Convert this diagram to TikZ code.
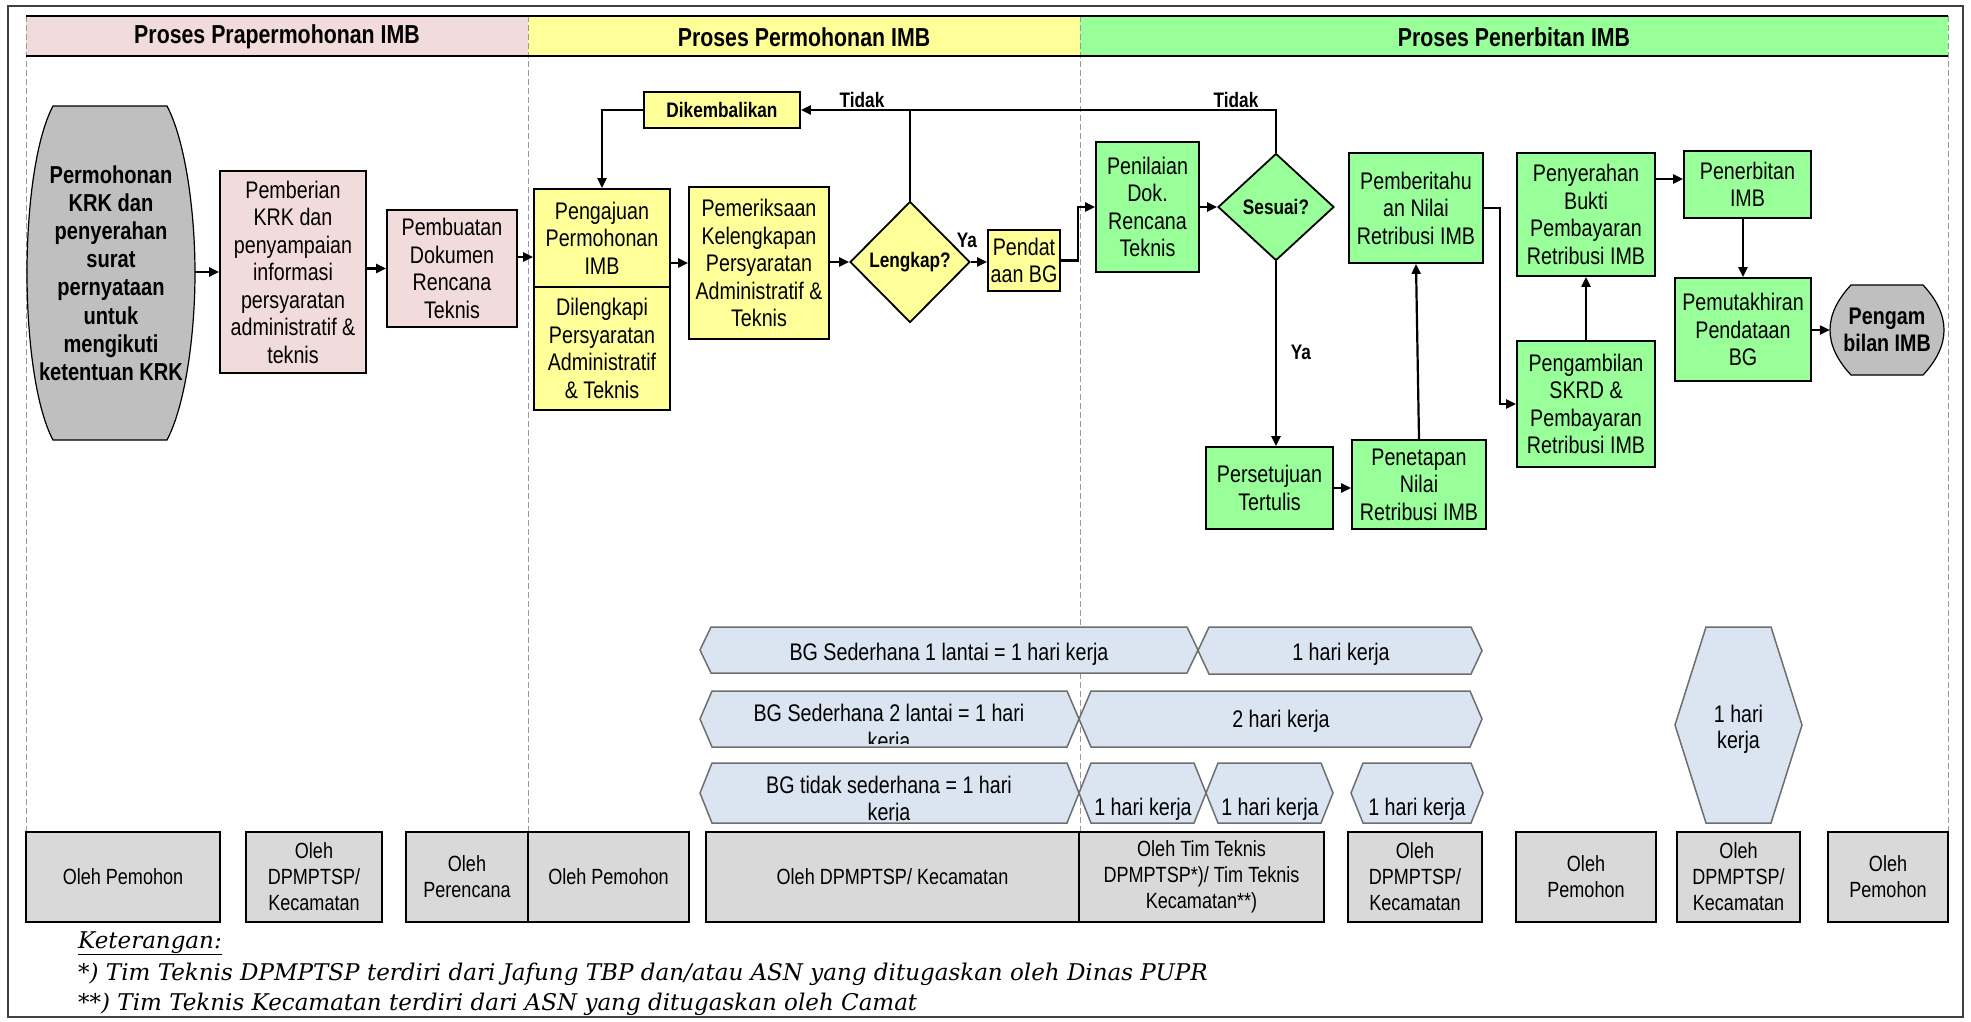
\documentclass[tikz,border=0pt]{standalone}
\usepackage{fontspec}
\setmainfont{Liberation Sans}[FakeStretch=0.82]
\newfontfamily\notefont{DejaVu Serif}
\usetikzlibrary{arrows.meta,shapes.geometric}
\definecolor{pinkc}{HTML}{F2DCDB}
\definecolor{yelc}{HTML}{FFFF99}
\definecolor{grnc}{HTML}{99FF99}
\definecolor{grayc}{HTML}{BFBFBF}
\definecolor{olehc}{HTML}{D9D9D9}
\definecolor{hexc}{HTML}{DBE5F1}
\definecolor{hexd}{HTML}{6E6E6E}
\definecolor{framec}{HTML}{404040}
\newcommand\fsn{\fontsize{24}{27.5}\selectfont}
\newcommand\fsb{\fontsize{21}{24}\selectfont\bfseries}
\newcommand\fsbb{\fontsize{24.5}{28.2}\selectfont\bfseries}
\newcommand\fsh{\fontsize{26}{30}\selectfont\bfseries}
\newcommand\fso{\fontsize{22}{26}\selectfont}
\newcommand\fsnote{\notefont\itshape\fontsize{23}{26}\selectfont}
\newcommand\myhex[5]{\draw[hexs] (#1,{(#3+#4)/2}) -- ({#1+#5},#3) -- ({#2-#5},#3) -- (#2,{(#3+#4)/2}) -- ({#2-#5},#4) -- ({#1+#5},#4) -- cycle;}
\begin{document}
\begin{tikzpicture}[x=1pt,y=-1pt,
  box/.style={draw=black, line width=1.8pt, align=center, inner sep=0pt, font=\fsn},
  pk/.style={box, fill=pinkc}, yk/.style={box, fill=yelc}, gk/.style={box, fill=grnc},
  ob/.style={draw=black, line width=1.6pt, fill=olehc, align=center, inner sep=0pt, font=\fso, minimum height=90pt},
  conn/.style={line width=2.2pt, -{Triangle[length=10pt,width=9pt]}},
  plain/.style={line width=2.2pt},
  lane/.style={draw=gray!80, line width=1pt, dash pattern=on 6pt off 3pt},
  hexs/.style={draw=hexd, line width=1.5pt, fill=hexc},
  lbl/.style={font=\fsb, inner sep=0pt},
  txt/.style={font=\fsn, inner sep=0pt, align=center},
]
\useasboundingbox (0,0) rectangle (1971,1021);
\fill[white] (0,0) rectangle (1971,1021);
\draw[framec, line width=1.5pt] (8,6) rectangle (1963,1017);

% header bands
\fill[pinkc] (26,16) rectangle (528,56);
\fill[yelc] (528,16) rectangle (1080,56);
\fill[grnc] (1080,16) rectangle (1948,56);
% lanes
\foreach \lx in {26,528,1080,1948} \draw[lane] (\lx,16) -- (\lx,832);
\draw[line width=2pt] (26,16) -- (1948,16);
\draw[line width=2.4pt] (26,56) -- (1948,56);
\node[font=\fsh] (h1) at (277,37) {Proses Prapermohonan IMB};
\node[font=\fsh] (h2) at (804,37) {Proses Permohonan IMB};
\node[font=\fsh] (h3) at (1514,37) {Proses Penerbitan IMB};

% start barrel
\draw[fill=grayc, line width=1.2pt] (53,106) -- (167,106) .. controls (185,140) and (195,210) .. (195,273) .. controls (195,336) and (185,406) .. (167,440) -- (53,440) .. controls (35,406) and (27,336) .. (27,273) .. controls (27,210) and (35,140) .. (53,106) -- cycle;
\node[font=\fsbb, align=center, inner sep=0pt, minimum width=168pt, minimum height=334pt] (p1) at (111,273) {Permohonan\\KRK dan\\penyerahan\\surat\\pernyataan\\untuk\\mengikuti\\ketentuan KRK};

% end barrel
\draw[fill=grayc, line width=1.2pt] (1851,285) -- (1923,285) .. controls (1937,300) and (1944,315) .. (1944,330) .. controls (1944,345) and (1937,360) .. (1923,375) -- (1851,375) .. controls (1837,360) and (1830,345) .. (1830,330) .. controls (1830,315) and (1837,300) .. (1851,285) -- cycle;
\node[font=\fontsize{24}{27}\selectfont\bfseries, align=center, inner sep=0pt, minimum width=114pt, minimum height=90pt] (endn) at (1887,330) {Pengam\\bilan IMB};

% pink boxes
\node[pk, minimum width=146pt, minimum height=202pt] (pemb) at (293,272) {Pemberian\\KRK dan\\penyampaian\\informasi\\persyaratan\\administratif \&\\teknis};
\node[pk, minimum width=130pt, minimum height=117pt] (pembu) at (452,268.5) {Pembuatan\\Dokumen\\Rencana\\Teknis};

% yellow
\node[yk, minimum width=136pt, minimum height=98pt] (peng) at (602,238) {Pengajuan\\Permohonan\\IMB};
\node[yk, minimum width=136pt, minimum height=123pt] (dil) at (602,348.5) {Dilengkapi\\Persyaratan\\Administratif\\\& Teknis};
\node[yk, font=\fsb, minimum width=156pt, minimum height=36pt] (dik) at (722,110) {Dikembalikan};
\node[yk, minimum width=140pt, minimum height=152pt] (pem) at (759,263) {Pemeriksaan\\Kelengkapan\\Persyaratan\\Administratif \&\\Teknis};
\node[draw=black, line width=1.8pt, fill=yelc, diamond, aspect=1, minimum width=120pt, minimum height=121pt, inner sep=0pt, font=\fsb] (leng) at (910,262) {Lengkap?};
\node[yk, minimum width=72pt, minimum height=61pt] (pend) at (1024,260.5) {Pendat\\aan BG};

% green
\node[gk, minimum width=103pt, minimum height=130pt] (peni) at (1147.5,207) {Penilaian\\Dok.\\Rencana\\Teknis};
\node[draw=black, line width=1.8pt, fill=grnc, diamond, aspect=1, minimum width=116pt, minimum height=107pt, inner sep=0pt, font=\fsb] (ses) at (1276,207) {Sesuai?};
\node[gk, minimum width=127pt, minimum height=82pt] (pers) at (1269.5,488) {Persetujuan\\Tertulis};
\node[gk, minimum width=134pt, minimum height=89pt] (pene) at (1419,484.5) {Penetapan\\Nilai\\Retribusi IMB};
\node[gk, minimum width=134pt, minimum height=110pt] (pemt) at (1416,208) {Pemberitahu\\an Nilai\\Retribusi IMB};
\node[gk, minimum width=138pt, minimum height=123pt] (peny) at (1586,214.5) {Penyerahan\\Bukti\\Pembayaran\\Retribusi IMB};
\node[gk, minimum width=138pt, minimum height=126pt] (pgb) at (1586,404) {Pengambilan\\SKRD \&\\Pembayaran\\Retribusi IMB};
\node[gk, minimum width=127pt, minimum height=67pt] (pnb) at (1747.5,184.5) {Penerbitan\\IMB};
\node[gk, minimum width=136pt, minimum height=103pt] (pmk) at (1743,329.5) {Pemutakhiran\\Pendataan\\BG};

% helper coordinates
\coordinate (y257) at (0,257);
\coordinate (y179) at (0,179);
\coordinate (j1) at (1078,230);
\coordinate (j2) at (1500,300);

% connectors
\draw[conn] (p1.east |- pemb.west) -- (pemb.west);
\draw[conn] (pemb.east |- pembu.west) -- (pembu.west);
\draw[conn] (pembu.east |- y257) -- (peng.west |- y257);
\draw[conn] (peng.east |- pem.west) -- (pem.west);
\draw[conn] (pem.east |- leng.west) -- (leng.west);
\draw[conn] (leng.east) -- (leng.east -| pend.west);
\draw[plain] (leng.north) -- (leng.north |- dik.east);
\draw[conn] (ses.north) -- (ses.north |- dik.east) -- (dik.east);
\draw[conn] (dik.west) -| (peng.north);
\draw[conn] (pend.east) -- (pend.east -| j1) |- (peni.west);
\draw[conn] (peni.east |- ses.west) -- (ses.west);
\draw[conn] (ses.south) -- (ses.south |- pers.north);
\draw[conn] (pers.east) -- (pers.east -| pene.west);
\draw[conn] (pene.north) -- (pemt.south);
\draw[conn] (pemt.east) -- (pemt.east -| j2) |- (pgb.west);
\draw[conn] (pgb.north) -- (peny.south);
\draw[conn] (peny.east |- y179) -- (pnb.west |- y179);
\draw[conn] (pmk.north |- pnb.south) -- (pmk.north);
\draw[conn] (pmk.east |- endn.west) -- (endn.west);

% labels
\node[lbl] (t1) at (862,100) {Tidak};
\node[lbl] (t2) at (1236,100) {Tidak};
\node[lbl] (ya1) at (967,240) {Ya};
\node[lbl] (ya2) at (1301,352) {Ya};

% timeline hexagons
\myhex{700}{1198}{627}{673}{11}
\myhex{1198}{1482}{627}{674}{11}
\myhex{700}{1079}{691}{747}{12}
\myhex{1079}{1482}{691}{747}{12}
\myhex{700}{1079}{763}{823}{12}
\myhex{1079}{1206}{763}{823}{12}
\myhex{1206}{1333}{763}{823}{12}
\myhex{1351}{1483}{763}{823}{12}
\draw[hexs] (1675,725) -- (1706,627) -- (1771,627) -- (1802,725) -- (1771,823) -- (1706,823) -- cycle;

\node[txt, anchor=base] (x1) at (949,660) {BG Sederhana 1 lantai = 1 hari kerja};
\node[txt, anchor=base] (x2) at (1341,660) {1 hari kerja};
\node[txt, anchor=base] (x3) at (889,721) {BG Sederhana 2 lantai = 1 hari};
\begin{scope}
\clip (700,725) rectangle (1079,743);
\node[txt, anchor=base] (x3b) at (889,749) {kerja};
\end{scope}
\node[txt, anchor=base] (x4) at (1281,727) {2 hari kerja};
\node[txt, anchor=base] (x5) at (889,793) {BG tidak sederhana = 1 hari};
\begin{scope}
\clip (700,797) rectangle (1483,820.5);
\node[txt, anchor=base] (x5b) at (889,820) {kerja};
\node[txt, anchor=base] (x6) at (1143,815) {1 hari kerja};
\node[txt, anchor=base] (x7) at (1270,815) {1 hari kerja};
\node[txt, anchor=base] (x8) at (1417,815) {1 hari kerja};
\end{scope}
\node[txt, anchor=base] (x9) at (1738.5,722) {1 hari};
\node[txt, anchor=base] (x9b) at (1738.5,748) {kerja};

% responsibility boxes
\node[ob, minimum width=194pt] (b1) at (123,877) {Oleh Pemohon};
\node[ob, minimum width=136pt] (b2) at (314,877) {Oleh\\DPMPTSP/\\Kecamatan};
\node[ob, minimum width=122pt] (b3) at (467,877) {Oleh\\Perencana};
\node[ob, minimum width=161pt] (b4) at (608.5,877) {Oleh Pemohon};
\node[ob, minimum width=373pt] (b5) at (892.5,877) {Oleh DPMPTSP/ Kecamatan};
\node[ob, minimum width=245pt] (b6) at (1201.5,877) {Oleh Tim Teknis\\DPMPTSP*)/ Tim Teknis\\Kecamatan**)};
\node[ob, minimum width=134pt] (b7) at (1415,877) {Oleh\\DPMPTSP/\\Kecamatan};
\node[ob, minimum width=140pt] (b8) at (1586,877) {Oleh\\Pemohon};
\node[ob, minimum width=123pt] (b9) at (1738.5,877) {Oleh\\DPMPTSP/\\Kecamatan};
\node[ob, minimum width=120pt] (b10) at (1888,877) {Oleh\\Pemohon};

% notes
\node[font=\fsnote, anchor=base west, inner sep=0pt] (n0) at (78,948) {\underline{Keterangan:}};
\node[font=\fsnote, anchor=base west, inner sep=0pt] (n1) at (78,980) {*) Tim Teknis DPMPTSP terdiri dari Jafung TBP dan/atau ASN yang ditugaskan oleh Dinas PUPR};
\node[font=\fsnote, anchor=base west, inner sep=0pt] (n2) at (78,1010) {**) Tim Teknis Kecamatan terdiri dari ASN yang ditugaskan oleh Camat};
\end{tikzpicture}
\end{document}
